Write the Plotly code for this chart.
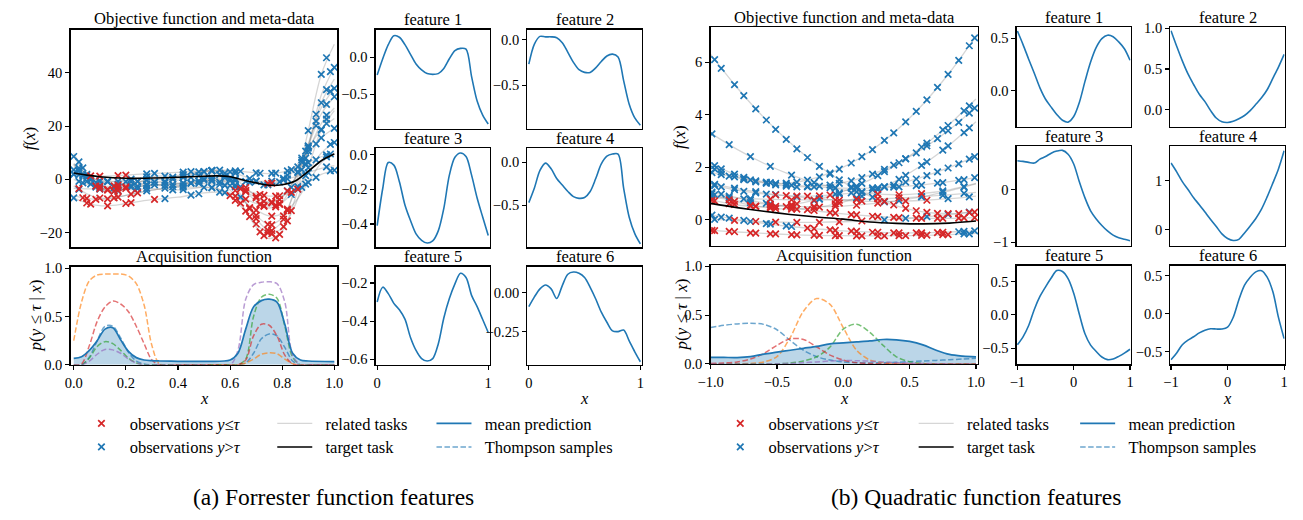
import plotly.graph_objects as go

PW, PH = 1303, 520
OX, OY = 0, 0
FW, FH = PW, PH
FONT = '"Liberation Serif", "Times New Roman", Times, serif'
C_BLUE = "#1f77b4"
C_ORANGE = "#ff7f0e"
C_GREEN = "#2ca02c"
C_RED = "#d62728"
C_PURPLE = "#9467bd"
C_GRAY = "rgba(128,128,128,0.32)"
DASH = "5.5px,2.5px"

# ======================= panel (a): Forrester =======================
a_grid = [0, 0.05, 0.1, 0.15, 0.2, 0.3, 0.4, 0.5, 0.55, 0.6, 0.65, 0.7, 0.75, 0.8, 0.85, 0.9, 0.95, 1.0]
a_task1 = [9.70, 2.37, -2.11, -3.14, -2.05, -0.06, 0.38, 2.91, 2.78, -0.48, -7.07, -14.75, -19.17, -15.84, -2.56, 18.27, 39.36, 50.66]
a_task2 = [8.59, 1.47, -2.98, -4.19, -3.42, -2.06, -2.14, -0.27, -0.64, -3.95, -10.38, -17.83, -22.22, -19.35, -7.15, 12.13, 31.65, 41.99]
a_task3 = [5.58, -0.15, -3.65, -4.45, -3.6, -2.05, -1.7, 0.28, 0.18, -2.38, -7.53, -13.53, -16.98, -14.38, -4.0, 12.28, 28.75, 37.58]
a_task4 = [3.56, -0.77, -3.32, -3.71, -2.78, -1.04, -0.26, 1.82, 1.99, 0.2, -3.67, -8.22, -10.73, -8.4, 0.15, 13.42, 26.85, 34.16]
a_task5 = [-2.45, -5.39, -6.99, -6.97, -5.96, -4.03, -2.82, -0.63, -0.19, -1.23, -3.82, -6.92, -8.49, -6.43, 0.3, 10.57, 20.95, 26.75]
a_task6 = [-6.97, -8.86, -9.86, -9.78, -9.04, -7.62, -6.68, -5.09, -4.73, -5.35, -7.01, -9.01, -9.99, -8.55, -4.0, 2.91, 9.9, 13.83]
a_task7 = [0.03, -1.76, -2.66, -2.48, -1.64, -0.02, 1.12, 2.91, 3.37, 2.85, 1.29, -0.61, -1.49, 0.05, 4.7, 11.71, 18.8, 22.83]
a_task8 = [2.02, 0.62, -0.33, -0.74, -0.82, -1.01, -1.44, -1.54, -1.81, -2.58, -3.86, -5.31, -6.25, -5.98, -4.15, -1.14, 1.9, 3.42]
a_task9 = [4.64, 1.39, -0.79, -1.68, -1.77, -2.02, -2.86, -2.91, -3.46, -5.18, -8.15, -11.53, -13.69, -12.94, -8.46, -1.15, 6.26, 10.0]
a_task10 = [-6.08, -7.16, -7.53, -7.03, -6.01, -4.02, -2.4, -0.27, 0.45, 0.38, -0.52, -1.69, -2.04, -0.46, 3.61, 9.57, 15.59, 19.16]
a_task11 = [5.67, 0.23, -3.25, -4.36, -4.01, -3.44, -3.94, -3.0, -3.49, -6.13, -11.06, -16.74, -20.18, -18.29, -9.56, 4.36, 18.46, 25.83]
a_task12 = [1.91, 1.42, 1.2, 1.31, 1.61, 2.19, 2.64, 3.27, 3.46, 3.35, 2.94, 2.42, 2.2, 2.71, 4.16, 6.31, 8.49, 9.75]
a_task13 = [-3.39, -3.55, -3.53, -3.3, -2.93, -2.2, -1.58, -0.82, -0.53, -0.43, -0.54, -0.72, -0.7, -0.19, 0.94, 2.54, 4.16, 5.17]
a_task14 = [5.95, 1.93, -0.49, -0.96, -0.25, 1.06, 1.52, 3.14, 3.17, 1.43, -2.18, -6.4, -8.78, -6.81, 0.76, 12.58, 24.54, 30.99]
a_target = [2.4, 1.6, 1.0, 0.6, 0.4, 0.5, 0.8, 1.2, 1.3, 1.0, -0.2, -1.3, -2.2, -2.0, -0.6, 3.0, 7.0, 9.5]

a_obs_lo_x = [0.7, 0.76, 0.82, 0.13, 0.66, 0.73, 0.79, 0.155, 0.675, 0.745, 0.805, 0.2, 0.715, 0.775,
              0.1, 0.17, 0.7, 0.76, 0.05, 0.13, 0.22, 0.66, 0.73, 0.79, 0.085, 0.155, 0.745,
              0.64, 0.715, 0.775, 0.835, 0.62, 0.7, 0.76, 0.82, 0.05, 0.13, 0.22, 0.6, 0.675, 0.745, 0.805,
              0.065, 0.2, 0.02, 0.1, 0.17, 0.66, 0.73, 0.79,
              0.675, 0.745, 0.805, 0.2, 0.64, 0.715, 0.775, 0.835, 0.065, 0.2, 0.31, 0.715, 0.775,
              0.035, 0.085, 0.155, 0.245, 0.7, 0.76, 0.82, 0.1, 0.17, 0.13, 0.66, 0.73, 0.79,
              0.66, 0.73, 0.79, 0.86, 0.17, 0.62, 0.7, 0.76, 0.82, 0.1, 0.17, 0.76, 0.62, 0.7, 0.76, 0.82]
a_obs_lo_y = [-14.74, -19.26, -11.66, -4.03, -11.91, -21.12, -20.63, -4.41, -10.60, -16.86, -13.69, -2.78, -9.32, -10.31,
              -6.99, -6.63, -6.91, -8.43, -8.86, -9.92, -8.69, -7.42, -9.82, -9.07, -2.51, -2.41, -1.49,
              -3.57, -5.68, -6.30, -4.86, -6.25, -11.53, -13.82, -11.57, -7.16, -7.32, -5.56, -6.13, -13.97, -20.04, -17.72,
              1.32, 1.61, -3.47, -3.53, -3.16, -3.05, -8.22, -7.63,
              -11.0, -19.02, -14.96, -3.42, -8.91, -19.67, -21.92, -11.75, -9.28, -9.04, -7.53, -9.48, -9.65,
              -6.89, -7.51, -6.95, -5.03, -6.39, -8.82, -4.42, 1.2, 1.41, -3.77, -4.61, -10.16, -9.34,
              -4.15, -5.98, -6.15, -3.62, -4.22, -4.18, -13.52, -17.05, -11.11, -2.66, -2.19, -1.42, -7.88, -16.73, -20.32, -15.58]
a_obs_hi_x = [0.02, 0.1, 0.17, 0.28, 0.42, 0.53, 0.62, 0.9, 0.97,
              0.05, 0.22, 0.35, 0.48, 0.58, 0.86, 0.93, 1.0,
              0.035, 0.085, 0.245, 0.38, 0.5, 0.6, 0.875, 0.95,
              0.0, 0.065, 0.31, 0.45, 0.56, 0.64, 0.835, 0.89, 0.985,
              0.02, 0.28, 0.42, 0.53, 0.62, 0.82, 0.9, 0.97,
              0.35, 0.48, 0.58, 0.86, 0.93, 1.0,
              0.035, 0.245, 0.38, 0.5, 0.6, 0.675, 0.805, 0.875, 0.95,
              0.0, 0.065, 0.2, 0.31, 0.45, 0.56, 0.89, 0.985,
              0.02, 0.1, 0.17, 0.28, 0.42, 0.53, 0.9, 0.97,
              0.35, 0.48, 0.58, 0.66, 0.73, 0.79, 0.86, 0.93, 1.0,
              0.035, 0.085, 0.155, 0.245, 0.38, 0.5, 0.875, 0.95,
              0.0, 0.31, 0.45, 0.56, 0.64, 0.715, 0.775, 0.835, 0.89, 0.985,
              0.28, 0.42, 0.53, 0.62, 0.7, 0.76, 0.82, 0.9, 0.97,
              0.05, 0.13, 0.22, 0.35, 0.48, 0.58, 0.86, 0.93, 1.0,
              0.035, 0.085, 0.155, 0.245, 0.38, 0.5, 0.6, 0.875, 0.95,
              0.0, 0.065, 0.31, 0.45, 0.56, 0.89, 0.985,
              0.0, 0.45, 0.56, 0.64, 0.835, 0.89, 0.985,
              0.38, 0.5, 0.6, 0.675, 0.745, 0.805, 0.875, 0.95,
              0.02, 0.1, 0.17, 0.28, 0.42, 0.53, 0.62, 0.9, 0.97,
              0.02, 0.28, 0.42, 0.53, 0.62, 0.7, 0.76, 0.82, 0.9, 0.97,
              0.05, 0.22, 0.35, 0.48, 0.58, 0.86, 0.93, 1.0,
              0.05, 0.13, 0.22, 0.35, 0.48, 0.58, 0.93, 1.0,
              0.02, 0.1, 0.28, 0.42, 0.53, 0.9, 0.97,
              0.02, 0.28, 0.42, 0.53, 0.62, 0.7, 0.82, 0.9, 0.97,
              0.02, 0.1, 0.17, 0.28, 0.42, 0.53, 0.9, 0.97]
a_obs_hi_y = [6.55, -2.10, -2.84, -0.20, 0.75, 3.14, -2.79, 18.28, 45.63,
              1.46, -2.96, -2.24, -0.62, -2.22, -3.70, 24.43, 41.99,
              1.40, -2.89, -2.61, -1.90, 0.27, -2.37, 3.68, 28.75,
              3.55, -1.77, -0.96, 0.72, 1.81, -2.77, -3.03, 10.57, 32.99,
              -3.73, -4.29, -2.45, -0.23, -2.11, -4.27, 10.57, 24.09,
              -7.2, -5.40, -4.97, -2.75, 7.30, 13.83,
              -1.29, -0.80, 0.84, 2.91, 2.85, 0.31, 0.38, 8.02, 18.80,
              2.01, 0.28, -0.82, -1.05, -1.51, -1.92, -1.79, 3.21,
              3.26, -0.79, -1.77, -1.87, -2.92, -3.12, -1.15, 8.41,
              -3.25, -0.69, 0.51, -0.76, -2.08, -0.97, 4.69, 13.34, 19.16,
              1.71, -2.46, -4.36, -3.50, -3.95, -3.0, -3.0, 18.46,
              1.91, 2.24, 2.94, 3.47, 3.04, 2.30, 2.35, 3.63, 5.85, 9.52,
              -2.33, -1.43, -0.62, -0.45, -0.72, -0.64, 0.19, 2.54, 4.67,
              1.93, -0.97, 0.13, 1.2, 2.83, 2.37, 2.88, 20.11, 30.99,
              4.35, -1.14, -3.08, -0.78, 0.13, 2.91, -0.48, 7.27, 39.36,
              8.58, -0.21, -2.07, -1.30, -1.03, 7.99, 40.41,
              -6.97, -5.92, -4.76, -6.62, -5.68, 1.43, 13.16,
              -2.77, -0.27, 0.38, -1.12, -2.08, -0.16, 6.45, 15.59,
              4.23, -0.48, -0.76, 0.95, 1.76, 3.33, 0.17, 12.58, 28.11,
              1.69, 2.10, 2.75, 3.41, 3.22, 2.42, 2.23, 3.19, 6.31, 9.16,
              -0.77, -2.30, -0.75, 1.42, 1.19, 2.53, 21.87, 34.16,
              0.62, -0.63, -0.83, -1.25, -1.52, -2.2, 0.78, 3.42,
              3.12, -3.64, -2.15, -1.42, 0.45, 12.28, 33.65,
              -0.75, -0.26, 1.43, 3.28, 2.33, -0.61, 1.56, 11.71, 20.96,
              3.35, -3.25, -4.32, -3.37, -3.85, -3.08, 4.37, 22.61]

a_acq_x = [0, 0.03, 0.06, 0.09, 0.12, 0.15, 0.18, 0.21, 0.24, 0.27, 0.3, 0.33, 0.4, 0.5, 0.6,
           0.63, 0.66, 0.69, 0.72, 0.75, 0.78, 0.81, 0.84, 0.87, 0.9, 1.0]
a_mean = [0.067, 0.085, 0.15, 0.25, 0.37, 0.385, 0.26, 0.14, 0.075, 0.05, 0.043, 0.04, 0.037, 0.036, 0.05,
          0.12, 0.37, 0.6, 0.665, 0.68, 0.65, 0.42, 0.12, 0.05, 0.04, 0.034]
a_ts_blue = [0, 0, 0.08, 0.25, 0.4, 0.4, 0.28, 0.13, 0.04, 0.01, 0, 0, 0, 0, 0,
             0, 0.02, 0.12, 0.27, 0.32, 0.3, 0.18, 0.04, 0, 0, 0]
a_ts_orange = [0.25, 0.65, 0.87, 0.93, 0.94, 0.94, 0.94, 0.92, 0.84, 0.62, 0.2, 0.01, 0, 0, 0,
               0, 0.02, 0.06, 0.11, 0.125, 0.115, 0.06, 0.01, 0, 0, 0]
a_ts_green = [0, 0, 0.07, 0.19, 0.24, 0.22, 0.15, 0.07, 0.02, 0, 0, 0, 0, 0, 0,
              0, 0.06, 0.5, 0.7, 0.73, 0.69, 0.4, 0.08, 0, 0, 0]
a_ts_red = [0, 0.01, 0.2, 0.45, 0.6, 0.66, 0.63, 0.55, 0.4, 0.22, 0.05, 0, 0, 0, 0,
            0, 0.05, 0.3, 0.42, 0.41, 0.3, 0.1, 0.01, 0, 0, 0]
a_ts_purple = [0, 0, 0.04, 0.11, 0.16, 0.155, 0.12, 0.06, 0.02, 0, 0, 0, 0, 0, 0,
               0.15, 0.68, 0.83, 0.855, 0.86, 0.84, 0.65, 0.1, 0, 0, 0]

a_feat_x = [0, 0.05, 0.1, 0.15, 0.2, 0.25, 0.3, 0.35, 0.4, 0.45, 0.5, 0.55, 0.6, 0.65, 0.7, 0.75, 0.8, 0.85, 0.9, 0.95, 1.0]
a_feat1 = [-0.24, -0.02, 0.17, 0.29, 0.27, 0.17, 0.04, -0.09, -0.17, -0.22, -0.23, -0.22, -0.15, -0.02, 0.09, 0.12, 0.11, -0.26, -0.59, -0.78, -0.9]
a_feat2 = [-0.27, -0.05, 0.035, 0.03, 0.03, 0.02, -0.035, -0.14, -0.25, -0.33, -0.36, -0.36, -0.31, -0.24, -0.18, -0.16, -0.19, -0.45, -0.71, -0.86, -0.94]
a_feat3 = [-0.41, -0.195, -0.045, -0.06, -0.156, -0.29, -0.38, -0.457, -0.494, -0.51, -0.498, -0.44, -0.31, -0.118, -0.015, 0.01, -0.01, -0.118, -0.25, -0.36, -0.466]
a_feat4 = [-0.47, -0.30, -0.095, -0.01, -0.076, -0.19, -0.265, -0.34, -0.40, -0.42, -0.41, -0.34, -0.19, -0.02, 0.07, 0.095, 0.095, -0.30, -0.64, -0.83, -0.95]
a_feat5 = [-0.30, -0.222, -0.256, -0.307, -0.341, -0.39, -0.486, -0.554, -0.597, -0.61, -0.597, -0.52, -0.384, -0.282, -0.205, -0.149, -0.171, -0.265, -0.324, -0.392, -0.46]
a_feat6 = [-0.09, -0.027, 0.025, 0.05, 0.025, -0.037, 0.046, 0.119, 0.133, 0.125, 0.098, 0.035, -0.04, -0.125, -0.19, -0.245, -0.25, -0.24, -0.31, -0.38, -0.444]

# ======================= panel (b): Quadratic =======================
b_grid = [-1.0, -0.8, -0.6, -0.4, -0.2, 0.0, 0.2, 0.4, 0.6, 0.8, 1.0]
b_task1 = [6.30, 5.03, 3.90, 2.93, 2.10, 1.43, 0.90, 0.53, 0.30, 0.23, 0.30]
b_task2 = [2.0, 1.6, 1.4, 1.4, 1.6, 2.0, 2.6, 3.4, 4.4, 5.6, 7.0]
b_task3 = [3.30, 2.68, 2.15, 1.72, 1.38, 1.14, 1.0, 0.95, 1.0, 1.14, 1.38]
b_task4 = [0.76, 0.56, 0.5, 0.56, 0.76, 1.08, 1.52, 2.1, 2.8, 3.64, 4.6]
b_task5 = [2.13, 1.7, 1.41, 1.27, 1.27, 1.41, 1.7, 2.13, 2.71, 3.43, 4.29]
b_task6 = [1.01, 0.67, 0.47, 0.4, 0.47, 0.67, 1.01, 1.49, 2.1, 2.85, 3.73]
b_task7 = [1.34, 1.13, 0.98, 0.91, 0.91, 0.98, 1.13, 1.34, 1.63, 1.99, 2.42]
b_task8 = [1.8, 1.61, 1.45, 1.33, 1.25, 1.2, 1.2, 1.25, 1.33, 1.45, 1.6]
b_task9 = [0.88, 0.72, 0.6, 0.52, 0.5, 0.52, 0.6, 0.72, 0.88, 1.1, 1.36]
b_task10 = [1.38, 1.18, 1.02, 0.9, 0.8, 0.74, 0.7, 0.7, 0.74, 0.8, 0.9]
b_task11 = [0.18, 0.01, -0.14, -0.26, -0.35, -0.43, -0.47, -0.5, -0.5, -0.47, -0.43]
b_task12 = [-0.4, -0.47, -0.52, -0.57, -0.6, -0.61, -0.62, -0.61, -0.6, -0.57, -0.52]
b_task13 = [0.02, -0.04, -0.08, -0.1, -0.1, -0.08, -0.04, 0.02, 0.1, 0.2, 0.32]
b_task14 = [1.06, 0.84, 0.64, 0.47, 0.33, 0.22, 0.14, 0.08, 0.05, 0.05, 0.08]
b_task15 = [0.88, 0.82, 0.78, 0.76, 0.75, 0.76, 0.78, 0.82, 0.88, 0.95, 1.04]
b_target = [0.62, 0.46, 0.32, 0.2, 0.1, 0.02, -0.09, -0.14, -0.16, -0.13, -0.05]

b_obs_lo_x = [0.47, 0.63, 0.79, 0.95,
              0.26, 0.42, 0.59,
              -0.97, -0.82, -0.66, -0.51, -0.35,
              -0.86, -0.7, -0.55, -0.39, -0.22, -0.06,
              -0.51, -0.35, -0.18,
              -0.55, -0.39, -0.22, -0.06, 0.1, 0.26,
              -0.03, 0.14, 0.31, 0.47, 0.63,
              -0.27, -0.1, 0.06, 0.22, 0.38, 0.55, 0.71,
              -0.99, -0.86, -0.7, -0.55, -0.39, -0.22, -0.06, 0.1, 0.26, 0.42, 0.59, 0.75,
              -0.82, -0.66, -0.51, -0.35, -0.18, -0.03, 0.14,
              -0.43, -0.27, -0.1, 0.06, 0.22, 0.38, 0.55, 0.71, 0.87, 0.99,
              -0.55, -0.39, -0.22, -0.06, 0.1, 0.26, 0.42,
              0.38, 0.55, 0.71, 0.87, 0.99,
              -0.99, -0.86, -0.7, -0.55, -0.39,
              -0.43, -0.27, -0.1,
              -0.22, -0.06, 0.1, 0.26, 0.42, 0.59, 0.75,
              -0.97, -0.82, -0.66, -0.51, -0.35, -0.18, -0.03, 0.14, 0.31, 0.47, 0.63, 0.79,
              -0.39, -0.22, -0.06, 0.1, 0.26, 0.42, 0.59, 0.75, 0.91,
              -0.82, -0.66, -0.51, -0.35, -0.18, -0.03]
b_obs_lo_y = [0.43, 0.28, 0.23, 0.27,
              0.97, 0.95, 0.99,
              0.72, 0.58, 0.51, 0.51, 0.60,
              0.76, 0.55, 0.44, 0.40, 0.46, 0.60,
              0.94, 0.90, 0.91,
              0.57, 0.52, 0.50, 0.51, 0.55, 0.63,
              0.74, 0.71, 0.70, 0.71, 0.74,
              -0.32, -0.39, -0.44, -0.48, -0.50, -0.50, -0.49,
              -0.41, -0.45, -0.50, -0.54, -0.57, -0.59, -0.61, -0.62, -0.62, -0.61, -0.60, -0.57,
              -0.03, -0.07, -0.09, -0.10, -0.10, -0.08, -0.05,
              0.50, 0.38, 0.27, 0.19, 0.13, 0.09, 0.06, 0.05, 0.06, 0.08,
              0.78, 0.76, 0.75, 0.75, 0.77, 0.79, 0.83,
              0.56, 0.34, 0.24, 0.23, 0.29,
              0.74, 0.61, 0.52, 0.50, 0.57,
              0.92, 0.90, 0.94,
              -0.34, -0.41, -0.45, -0.48, -0.50, -0.50, -0.48,
              -0.42, -0.46, -0.51, -0.54, -0.58, -0.60, -0.61, -0.62, -0.62, -0.61, -0.59, -0.57,
              0.47, 0.35, 0.25, 0.18, 0.12, 0.08, 0.05, 0.05, 0.07,
              0.70, 0.52, 0.42, 0.40, 0.48, 0.63]
b_obs_hi_x = [-0.97, -0.82, -0.66, -0.51, -0.35, -0.18, -0.03, 0.14, 0.31,
              -0.92, -0.75, -0.58, -0.43, -0.27, -0.1, 0.06, 0.22, 0.38, 0.55, 0.71, 0.87, 0.99,
              -0.99, -0.86, -0.7, -0.55, -0.39, -0.22, -0.06, 0.1, 0.75, 0.91,
              -0.18, -0.03, 0.14, 0.31, 0.47, 0.63, 0.79, 0.95,
              -0.92, -0.75, -0.58, -0.43, -0.27, -0.1, 0.06, 0.22, 0.38, 0.55, 0.71, 0.87, 0.99,
              -0.99, 0.1, 0.26, 0.42, 0.59, 0.75, 0.91,
              -0.97, -0.82, -0.66, -0.03, 0.14, 0.31, 0.47, 0.63, 0.79, 0.95,
              -0.92, -0.75, -0.58, -0.43, -0.27, -0.1, 0.06, 0.22, 0.38, 0.55, 0.71, 0.87, 0.99,
              -0.99, -0.86, -0.7, 0.42, 0.59, 0.75, 0.91,
              -0.97, -0.82, -0.66, -0.51, -0.35, -0.18, 0.79, 0.95,
              -0.92, -0.75, -0.58, -0.43, 0.87, 0.99,
              0.91,
              -0.97, 0.31, 0.47, 0.63, 0.79, 0.95,
              -0.92, -0.75, -0.58,
              -0.99, -0.86, -0.7, 0.59, 0.75, 0.91,
              -0.92, -0.75, -0.58, -0.43, -0.27, -0.1, 0.06, 0.22,
              -0.97, -0.82, -0.66, -0.51, -0.35, -0.18, -0.03, 0.14, 0.31, 0.47, 0.63, 0.79, 0.95,
              -0.22, -0.06, 0.1, 0.26, 0.42, 0.59, 0.75, 0.91,
              -0.97, -0.82, -0.66, -0.51, -0.35, -0.18, -0.03, 0.14, 0.31, 0.47, 0.63, 0.79, 0.95,
              -0.92, -0.75, -0.58, 0.06, 0.22, 0.38, 0.55, 0.71, 0.87, 0.99,
              -0.99, -0.86, -0.7, -0.55, -0.39, -0.22, -0.06, 0.1, 0.26, 0.42, 0.59, 0.75, 0.91,
              -0.99, -0.86, -0.7, -0.55, -0.39, 0.91,
              0.95,
              -0.99, -0.86, -0.7, -0.55,
              -0.97, 0.14, 0.31, 0.47, 0.63, 0.79, 0.95]
b_obs_hi_y = [6.10, 5.15, 4.22, 3.44, 2.70, 2.03, 1.52, 1.04, 0.68,
              1.82, 1.53, 1.39, 1.39, 1.51, 1.78, 2.16, 2.67, 3.31, 4.13, 5.04, 6.07, 6.93,
              3.27, 2.86, 2.40, 2.03, 1.70, 1.41, 1.20, 1.06, 1.10, 1.26,
              0.78, 1.02, 1.38, 1.83, 2.33, 2.92, 3.59, 4.34,
              1.94, 1.61, 1.39, 1.28, 1.25, 1.32, 1.48, 1.74, 2.08, 2.55, 3.09, 3.71, 4.25,
              0.99, 0.83, 1.14, 1.54, 2.07, 2.65, 3.32,
              1.30, 1.14, 1.02, 0.97, 1.07, 1.24, 1.43, 1.68, 1.97, 2.31,
              1.72, 1.56, 1.43, 1.34, 1.27, 1.22, 1.20, 1.21, 1.24, 1.30, 1.39, 1.50, 1.60,
              0.87, 0.76, 0.65, 0.73, 0.87, 1.04, 1.24,
              1.35, 1.20, 1.07, 0.96, 0.87, 0.79, 0.80, 0.87,
              0.10, -0.03, -0.15, -0.24, -0.46, -0.43,
              -0.54,
              0.01, -0.01, 0.05, 0.12, 0.20, 0.29,
              0.97, 0.79, 0.62,
              0.88, 0.84, 0.80, 0.88, 0.93, 1.00,
              5.77, 4.73, 3.80, 3.06, 2.37, 1.74, 1.25, 0.86,
              1.93, 1.63, 1.44, 1.38, 1.43, 1.63, 1.93, 2.40, 3.02, 3.73, 4.57, 5.54, 6.63,
              0.73, 0.97, 1.28, 1.68, 2.17, 2.77, 3.42, 4.15,
              2.06, 1.74, 1.48, 1.33, 1.25, 1.28, 1.38, 1.60, 1.92, 2.32, 2.81, 3.39, 4.06,
              1.25, 1.08, 0.97, 1.02, 1.14, 1.32, 1.55, 1.82, 2.13, 2.40,
              1.79, 1.66, 1.52, 1.41, 1.32, 1.25, 1.21, 1.20, 1.21, 1.25, 1.32, 1.41, 1.53,
              0.17, 0.06, -0.07, -0.17, -0.26, -0.45,
              -0.54,
              1.05, 0.90, 0.74, 0.60,
              0.95, 0.90, 1.26, 1.69, 2.20, 2.81, 3.50]

b_acq_x = [-1.0, -0.9, -0.8, -0.7, -0.6, -0.5, -0.4, -0.3, -0.2, -0.1, 0.0, 0.1, 0.2, 0.3, 0.4, 0.5, 0.6, 0.7, 0.8, 0.9, 1.0]
b_mean = [0.067, 0.066, 0.065, 0.075, 0.1, 0.12, 0.14, 0.16, 0.18, 0.205, 0.215, 0.225, 0.235, 0.25, 0.247, 0.23, 0.195, 0.14, 0.097, 0.08, 0.073]
b_ts_blue = [0.373, 0.395, 0.41, 0.417, 0.405, 0.35, 0.24, 0.14, 0.073, 0.04, 0.02, 0.012, 0.01, 0.012, 0.016, 0.023, 0.03, 0.036, 0.042, 0.05, 0.057]
b_ts_orange = [0, 0, 0, 0.005, 0.02, 0.075, 0.27, 0.54, 0.67, 0.61, 0.37, 0.14, 0.04, 0.013, 0.005, 0, 0, 0, 0, 0, 0]
b_ts_green = [0, 0, 0, 0, 0, 0, 0.01, 0.03, 0.073, 0.173, 0.357, 0.407, 0.323, 0.19, 0.073, 0.023, 0.005, 0, 0, 0, 0]
b_ts_red = [0.005, 0.01, 0.02, 0.05, 0.107, 0.19, 0.257, 0.25, 0.173, 0.09, 0.04, 0.013, 0.005, 0, 0, 0, 0, 0, 0, 0, 0]
b_ts_purple = [0, 0, 0, 0, 0, 0.002, 0.005, 0.012, 0.02, 0.03, 0.035, 0.033, 0.028, 0.02, 0.013, 0.008, 0.005, 0.002, 0, 0, 0]

b_feat_x = [-1.0, -0.9, -0.8, -0.7, -0.6, -0.5, -0.4, -0.3, -0.2, -0.1, 0.0, 0.1, 0.2, 0.3, 0.4, 0.5, 0.6, 0.7, 0.8, 0.9, 1.0]
b_feat1 = [0.57, 0.44, 0.30, 0.165, 0.025, -0.084, -0.16, -0.23, -0.286, -0.304, -0.25, -0.115, 0.087, 0.273, 0.413, 0.497, 0.53, 0.516, 0.466, 0.40, 0.29]
b_feat2 = [0.97, 0.78, 0.60, 0.44, 0.31, 0.19, 0.10, -0.01, -0.10, -0.147, -0.155, -0.14, -0.11, -0.07, -0.01, 0.067, 0.147, 0.246, 0.385, 0.524, 0.68]
b_feat3 = [0.556, 0.543, 0.525, 0.512, 0.586, 0.636, 0.70, 0.74, 0.753, 0.68, 0.494, 0.154, -0.154, -0.40, -0.556, -0.68, -0.784, -0.864, -0.914, -0.944, -0.97]
b_feat4 = [1.36, 1.18, 0.98, 0.82, 0.65, 0.51, 0.36, 0.21, 0.065, -0.085, -0.18, -0.22, -0.196, -0.065, 0.078, 0.23, 0.42, 0.67, 0.95, 1.24, 1.61]
b_feat5 = [-0.45, -0.33, -0.16, 0.083, 0.278, 0.424, 0.556, 0.668, 0.654, 0.546, 0.327, 0.01, -0.283, -0.454, -0.55, -0.634, -0.673, -0.663, -0.624, -0.576, -0.517]
b_feat6 = [-0.61, -0.52, -0.41, -0.35, -0.306, -0.255, -0.22, -0.20, -0.204, -0.204, -0.18, -0.05, 0.183, 0.374, 0.48, 0.55, 0.566, 0.48, 0.29, -0.05, -0.33]

# tick labels
a_obj_yticks = ([-20, 0, 20, 40], ["\u221220", "0", "20", "40"])
acq_yticks = ([0, 0.5, 1.0], ["0.0", "0.5", "1.0"])
a_acq_xticks = ([0, 0.2, 0.4, 0.6, 0.8, 1.0], ["0.0", "0.2", "0.4", "0.6", "0.8", "1.0"])
a_feat_xticks = ([0, 1], ["0", "1"])
a_feat_yticks = [([-0.5, 0.0], ["\u22120.5", "0.0"]),
                 ([-0.5, 0.0], ["\u22120.5", "0.0"]),
                 ([-0.4, -0.2, 0.0], ["\u22120.4", "\u22120.2", "0.0"]),
                 ([-0.5, 0.0], ["\u22120.5", "0.0"]),
                 ([-0.6, -0.4, -0.2], ["\u22120.6", "\u22120.4", "\u22120.2"]),
                 ([-0.25, 0.0], ["\u22120.25", "0.00"])]
b_obj_yticks = ([0, 2, 4, 6], ["0", "2", "4", "6"])
b_acq_xticks = ([-1, -0.5, 0, 0.5, 1], ["\u22121.0", "\u22120.5", "0.0", "0.5", "1.0"])
b_feat_xticks = ([-1, 0, 1], ["\u22121", "0", "1"])
b_feat_yticks = [([0.0, 0.5], ["0.0", "0.5"]),
                 ([0.0, 0.5, 1.0], ["0.0", "0.5", "1.0"]),
                 ([-1, 0], ["\u22121", "0"]),
                 ([0, 1], ["0", "1"]),
                 ([-0.5, 0.0, 0.5], ["\u22120.5", "0.0", "0.5"]),
                 ([-0.5, 0.0, 0.5], ["\u22120.5", "0.0", "0.5"])]

# ======================= layout geometry (page pixels) =======================
A_OBJ = (58.5, 329.5, 23.5, 247.5)
A_ACQ = (58.5, 329.5, 267.5, 368.5)
A_FEAT = [(368.5, 484, 23.5, 125.5), (522.5, 638.5, 23.5, 125.5),
          (368.5, 484, 145.5, 247.5), (522.5, 638.5, 145.5, 247.5),
          (368.5, 484, 267.5, 368.5), (522.5, 638.5, 267.5, 368.5)]
B_OBJ = (708.5, 980, 21, 246)
B_ACQ = (708.5, 980, 266, 367.5)
B_FEAT = [(1019.5, 1135, 21, 123.5), (1175.5, 1291.5, 21, 123.5),
          (1019.5, 1135, 143.5, 246), (1175.5, 1291.5, 143.5, 246),
          (1019.5, 1135, 266.5, 368), (1175.5, 1291.5, 266.5, 368)]
a_feat_yr = [[-0.965, 0.37], [-0.98, 0.107], [-0.535, 0.037], [-0.99, 0.162], [-0.63, -0.115], [-0.464, 0.167]]
b_feat_yr = [[-0.35, 0.605], [-0.21, 1.01], [-1.07, 0.83], [-0.33, 1.7], [-0.745, 0.74], [-0.67, 0.63]]


def PX(x):
    return (x - OX) / FW


def PY(y):
    return 1 - (y - OY) / FH


fig = go.Figure()
lay = {}


def names(i):
    return ("x" if i == 1 else "x%d" % i, "y" if i == 1 else "y%d" % i)


def set_axes(i, box, xr, yr, xt, yt):
    l, r, t, b = box
    xn, yn = names(i)
    base = dict(showline=True, linecolor="black", linewidth=1.4, mirror=True, showgrid=False,
                zeroline=False, ticklen=4, tickwidth=1.1, tickcolor="black",
                tickfont=dict(family=FONT, size=14.5, color="black"), fixedrange=True)
    xa = dict(base, domain=[PX(l), PX(r)], range=xr, anchor=yn)
    if xt:
        xa.update(tickmode="array", tickvals=xt[0], ticktext=xt[1], ticks="outside", showticklabels=True)
    else:
        xa.update(ticks="", showticklabels=False)
    ya = dict(base, domain=[PY(b), PY(t)], range=yr, anchor=xn)
    if yt:
        ya.update(tickmode="array", tickvals=yt[0], ticktext=yt[1], ticks="outside", showticklabels=True)
    else:
        ya.update(ticks="", showticklabels=False)
    lay["xaxis" if i == 1 else "xaxis%d" % i] = xa
    lay["yaxis" if i == 1 else "yaxis%d" % i] = ya


def add_line(i, x, y, color, width=1.5, dash="solid", name=None, legend=None, opacity=1.0,
             fill=None, fillcolor=None):
    xn, yn = names(i)
    fig.add_trace(go.Scatter(x=x, y=y, mode="lines", xaxis=xn, yaxis=yn,
                             line=dict(color=color, width=width, dash=dash, shape="spline", smoothing=0.9),
                             opacity=opacity, fill=fill, fillcolor=fillcolor,
                             name=name or "", showlegend=legend is not None,
                             legend=legend or "legend", hoverinfo="skip"))


def add_obs(i, x, y, color, name=None, legend=None):
    xn, yn = names(i)
    fig.add_trace(go.Scatter(x=x, y=y, mode="markers", xaxis=xn, yaxis=yn,
                             marker=dict(symbol="x-thin", size=6.5, color=color,
                                         line=dict(width=1.7, color=color)),
                             name=name or "", showlegend=legend is not None,
                             legend=legend or "legend", hoverinfo="skip"))


NB = "\u200b\u00a0\u00a0"
LBL_LO = NB + "observations <i>y</i>\u2264<i>\u03c4</i>"
LBL_HI = NB + "observations <i>y</i>><i>\u03c4</i>"

# ---------- panel (a) ----------
set_axes(1, A_OBJ, [-0.012, 1.012], [-25.5, 56.1], None, a_obj_yticks)
set_axes(2, A_ACQ, [-0.012, 1.012], [0, 1.015], a_acq_xticks, acq_yticks)
for k in range(6):
    set_axes(3 + k, A_FEAT[k], [-0.012, 1.012], a_feat_yr[k], a_feat_xticks if k >= 4 else None, a_feat_yticks[k])

a_tasks = [a_task1, a_task2, a_task3, a_task4, a_task5, a_task6, a_task7,
           a_task8, a_task9, a_task10, a_task11, a_task12, a_task13, a_task14]
for j, tk in enumerate(a_tasks):
    add_line(1, a_grid, tk, C_GRAY, width=1.3, name=NB + "related tasks" if j == 0 else None,
             legend="legend3" if j == 0 else None)
add_obs(1, a_obs_hi_x, a_obs_hi_y, C_BLUE, LBL_HI, "legend2")
add_obs(1, a_obs_lo_x, a_obs_lo_y, C_RED, LBL_LO, "legend")
add_line(1, a_grid, a_target, "black", width=1.6, name=NB + "target task", legend="legend4")

add_line(2, a_acq_x, a_mean, "rgba(0,0,0,0)", width=0, fill="tozeroy", fillcolor="rgba(31,119,180,0.3)")
add_line(2, a_acq_x, a_ts_blue, C_BLUE, width=1.5, dash=DASH, opacity=0.65, name=NB + "Thompson samples", legend="legend6")
add_line(2, a_acq_x, a_ts_orange, C_ORANGE, width=1.5, dash=DASH, opacity=0.65)
add_line(2, a_acq_x, a_ts_green, C_GREEN, width=1.5, dash=DASH, opacity=0.65)
add_line(2, a_acq_x, a_ts_red, C_RED, width=1.5, dash=DASH, opacity=0.65)
add_line(2, a_acq_x, a_ts_purple, C_PURPLE, width=1.5, dash=DASH, opacity=0.65)
add_line(2, a_acq_x, a_mean, C_BLUE, width=1.7, name=NB + "mean prediction", legend="legend5")

for k, fv in enumerate([a_feat1, a_feat2, a_feat3, a_feat4, a_feat5, a_feat6]):
    add_line(3 + k, a_feat_x, fv, C_BLUE, width=1.6)

# ---------- panel (b) ----------
set_axes(9, B_OBJ, [-1.0, 1.015], [-1.0, 7.33], None, b_obj_yticks)
set_axes(10, B_ACQ, [-1.0, 1.015], [0, 1.01], b_acq_xticks, acq_yticks)
for k in range(6):
    set_axes(11 + k, B_FEAT[k], [-1.01, 1.01], b_feat_yr[k], b_feat_xticks if k >= 4 else None, b_feat_yticks[k])

b_tasks = [b_task1, b_task2, b_task3, b_task4, b_task5, b_task6, b_task7, b_task8,
           b_task9, b_task10, b_task11, b_task12, b_task13, b_task14, b_task15]
for j, tk in enumerate(b_tasks):
    add_line(9, b_grid, tk, C_GRAY, width=1.3, name=NB + "related tasks" if j == 0 else None,
             legend="legend9" if j == 0 else None)
add_obs(9, b_obs_hi_x, b_obs_hi_y, C_BLUE, LBL_HI, "legend8")
add_obs(9, b_obs_lo_x, b_obs_lo_y, C_RED, LBL_LO, "legend7")
add_line(9, b_grid, b_target, "black", width=1.6, name=NB + "target task", legend="legend10")

add_line(10, b_acq_x, b_mean, "rgba(0,0,0,0)", width=0, fill="tozeroy", fillcolor="rgba(31,119,180,0.3)")
add_line(10, b_acq_x, b_ts_blue, C_BLUE, width=1.5, dash=DASH, opacity=0.65, name=NB + "Thompson samples", legend="legend12")
add_line(10, b_acq_x, b_ts_orange, C_ORANGE, width=1.5, dash=DASH, opacity=0.65)
add_line(10, b_acq_x, b_ts_green, C_GREEN, width=1.5, dash=DASH, opacity=0.65)
add_line(10, b_acq_x, b_ts_red, C_RED, width=1.5, dash=DASH, opacity=0.65)
add_line(10, b_acq_x, b_ts_purple, C_PURPLE, width=1.5, dash=DASH, opacity=0.65)
add_line(10, b_acq_x, b_mean, C_BLUE, width=1.7, name=NB + "mean prediction", legend="legend11")

for k, fv in enumerate([b_feat1, b_feat2, b_feat3, b_feat4, b_feat5, b_feat6]):
    add_line(11 + k, b_feat_x, fv, C_BLUE, width=1.6)

# ---------- legends (one entry per legend box) ----------
LEG_COLS_A = [69.5, 263.3, 425.0]
LEG_COLS_B = [718.3, 914.7, 1078.7]
LEG_ROWS = [429.0, 453.3]
LEG_ITEMW = [30, 35, 35]


def leg(xp, yp, iw):
    return dict(x=PX(xp), xanchor="left", y=PY(yp), yanchor="middle", bgcolor="rgba(0,0,0,0)",
                borderwidth=0, font=dict(family=FONT, size=16.5, color="black"), itemwidth=iw,
                tracegroupgap=0, itemclick=False, itemdoubleclick=False)


order = [(0, 0), (0, 1), (1, 0), (1, 1), (2, 0), (2, 1)]
for n, (c, r) in enumerate(order):
    lay["legend" if n == 0 else "legend%d" % (n + 1)] = leg(LEG_COLS_A[c], LEG_ROWS[r], LEG_ITEMW[c])
    lay["legend%d" % (n + 7)] = leg(LEG_COLS_B[c], LEG_ROWS[r], LEG_ITEMW[c])

# ---------- annotations (titles, labels, captions) ----------
ann = []


def text(xp, yp, s, size=16.5, angle=0):
    ann.append(dict(x=PX(xp), y=PY(yp), xref="paper", yref="paper", text=s, showarrow=False,
                    xanchor="center", yanchor="middle", textangle=angle,
                    font=dict(family=FONT, size=size, color="black")))


text(194, 12, "Objective function and meta-data")
text(194, 256.5, "Acquisition function")
for k, (cx, cy) in enumerate([(426.3, 12.5), (580.5, 12.5), (426.3, 135.5), (580.5, 135.5), (426.3, 256.5), (580.5, 256.5)]):
    text(cx, cy, "feature %d" % (k + 1))
text(844.3, 10.5, "Objective function and meta-data")
text(844.3, 256, "Acquisition function")
for k, (cx, cy) in enumerate([(1077.3, 10.5), (1233.5, 10.5), (1077.3, 133), (1233.5, 133), (1077.3, 256), (1233.5, 256)]):
    text(cx, cy, "feature %d" % (k + 1))

text(17, 135.5, "<i>f</i>(<i>x</i>)", size=17, angle=-90)
text(23, 318, "<i>p</i>(<i>y</i> \u2264 <i>\u03c4</i> | <i>x</i>)", size=17, angle=-90)
text(676.7, 133.5, "<i>f</i>(<i>x</i>)", size=17, angle=-90)
text(679, 317, "<i>p</i>(<i>y</i> \u2264 <i>\u03c4</i> | <i>x</i>)", size=17, angle=-90)
text(194, 403.5, "<i>x</i>", size=16.5)
text(580.5, 403.5, "<i>x</i>", size=16.5)
text(844.3, 403.5, "<i>x</i>", size=16.5)
text(1233.5, 403.5, "<i>x</i>", size=16.5)
text(325, 505, "(a) Forrester function features", size=23.5)
text(978, 505, "(b) Quadratic function features", size=23.5)

fig.update_layout(width=FW, height=FH, autosize=False, margin=dict(l=0, r=0, t=0, b=0),
                  paper_bgcolor="white", plot_bgcolor="white", annotations=ann, **lay)

fig.write_html("out.html", config={"displayModeBar": False, "staticPlot": True},
               post_script="document.body.style.margin='0px';document.body.style.overflow='hidden';")
